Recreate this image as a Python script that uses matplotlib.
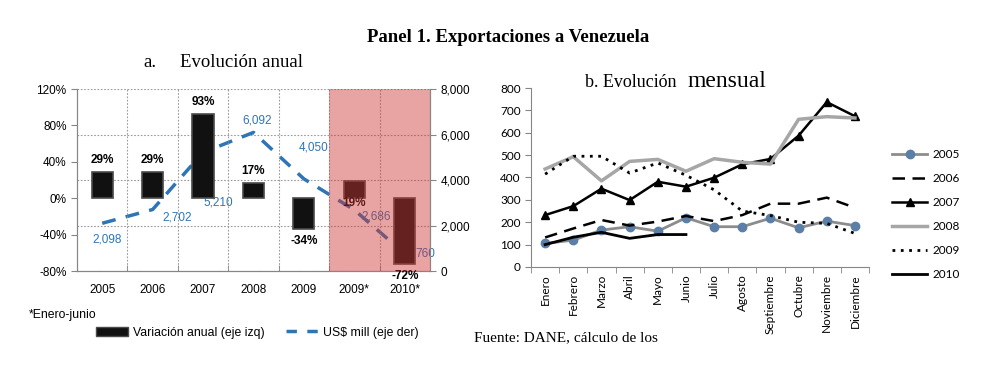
import numpy as np
import matplotlib
matplotlib.use("Agg")
import matplotlib.pyplot as plt
from matplotlib.lines import Line2D
from matplotlib.patches import Patch

# panel a: annual
years = ["2005", "2006", "2007", "2008", "2009", "2009*", "2010*"]
var_anual = [29, 29, 93, 17, -34, 19, -72]
usd_mill = [2098, 2702, 5210, 6092, 4050, 2686, 760]
# label offsets (pixels) for the US$ labels, as placed in the original
usd_offsets = [(5, -16), (25, -8), (15, -50), (4, 12), (10, 31), (22, -7), (21, 0)]

# panel b: monthly
meses = ["Enero", "Febrero", "Marzo", "Abril", "Mayo", "Junio", "Julio",
         "Agosto", "Septiembre", "Octubre", "Noviembre", "Diciembre"]
m2005 = [105, 120, 165, 180, 160, 220, 180, 180, 218, 175, 205, 185]
m2006 = [132, 172, 210, 185, 203, 228, 205, 232, 283, 283, 310, 265]
m2007 = [232, 272, 350, 299, 381, 359, 399, 459, 483, 587, 737, 674]
m2008 = [438, 493, 385, 472, 481, 428, 484, 468, 460, 660, 672, 666]
m2009 = [415, 495, 495, 420, 465, 410, 345, 250, 230, 200, 195, 150]
m2010 = [100, 133, 155, 128, 145, 145]

sans = "Liberation Sans"
serif = "Liberation Serif"
blue = "#2E75B6"
grid_c = "#9a9a9a"
spine_c = "#868686"

fig = plt.figure(figsize=(10.05, 3.72), dpi=100)

fig.text(0.506, 0.898, "Panel 1. Exportaciones a Venezuela", ha="center", va="center",
         fontsize=13.5, fontweight="bold", family=serif)
fig.text(0.143, 0.833, "a.", ha="left", va="center", fontsize=13.5, family=serif)
fig.text(0.179, 0.833, "Evolución anual", ha="left", va="center", fontsize=13.5, family=serif)
fig.text(0.582, 0.765, "b. Evolución", ha="left", va="baseline", fontsize=13, family=serif)
fig.text(0.684, 0.765, "mensual", ha="left", va="baseline", fontsize=17, family=serif)

# ---------- panel a ----------
ax = fig.add_axes([0.0766, 0.2715, 0.3512, 0.4892])
ax2 = ax.twinx()
ax.set_zorder(ax2.get_zorder() + 1)
ax.patch.set_visible(False)

x = np.arange(len(years))
ax.bar(x, var_anual, width=0.42, color="#111111", edgecolor="#4a4a4a", linewidth=1.2, zorder=3)
for xi, v in zip(x, var_anual):
    off = 12 if v >= 0 else -12
    if years[xi] == "2009*":
        off = -5 - 0.91 * v
    ax.annotate(f"{v}%", (xi, v), xytext=(0, off), textcoords="offset pixels",
                ha="center", va="center", fontsize=8.5, fontweight="bold", family=sans, zorder=4)

ax.axvspan(4.5, 6.5, color="#cc3333", alpha=0.45, lw=0, zorder=5)

ax.set_xlim(-0.5, len(years) - 0.5)
ax.set_ylim(-80, 120)
ax.set_yticks([-80, -40, 0, 40, 80, 120])
ax.set_yticklabels([f"{t}%" for t in [-80, -40, 0, 40, 80, 120]])
ax.set_xticks(x)
ax.set_xticklabels(years)
ax.set_xticks(np.arange(0.5, len(years) - 0.5), minor=True)
ax.tick_params(axis="x", which="major", length=0, pad=9, labelsize=8.5)
ax.tick_params(axis="x", which="minor", length=4, color=spine_c, direction="in")
ax.tick_params(axis="y", length=4, color=spine_c, labelsize=8.5)
for lab in ax.get_xticklabels() + ax.get_yticklabels():
    lab.set_family(sans)
ax.grid(axis="x", which="minor", linestyle=(0, (1.5, 1.5)), color=grid_c, lw=0.8)
ax.spines["top"].set_visible(False)
for s in ["left", "bottom", "right"]:
    ax.spines[s].set_color(spine_c)

ax2.plot(x, usd_mill, color=blue, lw=2.5, dashes=(4, 3), zorder=2)
for xi, v, (dx, dy) in zip(x, usd_mill, usd_offsets):
    ax2.annotate(f"{v:,}", (xi, v), xytext=(dx, dy), textcoords="offset pixels",
                 ha="center", va="center", fontsize=8.5, color=blue, family=sans)
ax2.set_ylim(0, 8000)
ax2.set_yticks(range(0, 8001, 2000))
ax2.set_yticklabels([f"{t:,}" for t in range(0, 8001, 2000)])
ax2.tick_params(axis="y", length=4, color=spine_c, labelsize=8.5)
for lab in ax2.get_yticklabels():
    lab.set_family(sans)
ax2.grid(axis="y", linestyle=(0, (1.5, 1.5)), color=grid_c, lw=0.8)
ax2.spines["top"].set_visible(False)
for s in ["left", "bottom", "right"]:
    ax2.spines[s].set_color(spine_c)

fig.text(0.029, 0.153, "*Enero-junio", ha="left", va="center", fontsize=8.8, family=sans)
h_bar = Patch(facecolor="#111111", edgecolor="#4a4a4a")
h_line = Line2D([], [], color=blue, lw=2.5, dashes=(3, 3))
fig.legend([h_bar, h_line], ["Variación anual (eje izq)", "US$ mill (eje der)"],
           loc="center", bbox_to_anchor=(0.256, 0.105), ncol=2, frameon=False,
           prop={"family": sans, "size": 8.8}, handlelength=2.6, handleheight=0.8,
           columnspacing=1.8, handletextpad=0.4)
fig.text(0.472, 0.093, "Fuente: DANE, cálculo de los", ha="left", va="center",
         fontsize=11, family=serif)

# ---------- panel b ----------
bx = fig.add_axes([0.5284, 0.2823, 0.3363, 0.4811])
mx = np.arange(len(meses))
l05, = bx.plot(mx, m2005, color="#8c8c8c", lw=2, marker="o", ms=6,
               markerfacecolor="#5b7fa6", markeredgecolor="#5b7fa6")
l06, = bx.plot(mx, m2006, color="black", lw=1.8, dashes=(5, 3))
l07, = bx.plot(mx, m2007, color="black", lw=1.8, marker="^", ms=6)
l08, = bx.plot(mx, m2008, color="#a6a6a6", lw=2.5)
l09, = bx.plot(mx, m2009, color="black", lw=2, linestyle=(0, (1, 2)))
l10, = bx.plot(mx[:len(m2010)], m2010, color="black", lw=2)

bx.set_xlim(-0.5, len(meses) - 0.5)
bx.set_ylim(0, 800)
bx.set_yticks(range(0, 801, 100))
bx.set_xticks(mx)
bx.set_xticklabels(meses, rotation=90)
bx.set_xticks(np.arange(-0.5, len(meses)), minor=True)
bx.tick_params(axis="x", which="major", length=0, pad=5, labelsize=8.5)
bx.tick_params(axis="x", which="minor", length=4, color=spine_c)
bx.tick_params(axis="y", length=4, color=spine_c, labelsize=8.5)
for lab in bx.get_xticklabels() + bx.get_yticklabels():
    lab.set_family("Lato")
bx.spines["top"].set_visible(False)
bx.spines["right"].set_visible(False)
bx.spines["left"].set_color(spine_c)
bx.spines["bottom"].set_color(spine_c)

fig.legend([l05, l06, l07, l08, l09, l10], ["2005", "2006", "2007", "2008", "2009", "2010"],
           loc="upper left", bbox_to_anchor=(0.877, 0.628), frameon=False,
           prop={"family": "Lato", "size": 8.5}, handlelength=3.0, labelspacing=1.1,
           handletextpad=0.4)

fig.savefig("out.png", dpi=100)
